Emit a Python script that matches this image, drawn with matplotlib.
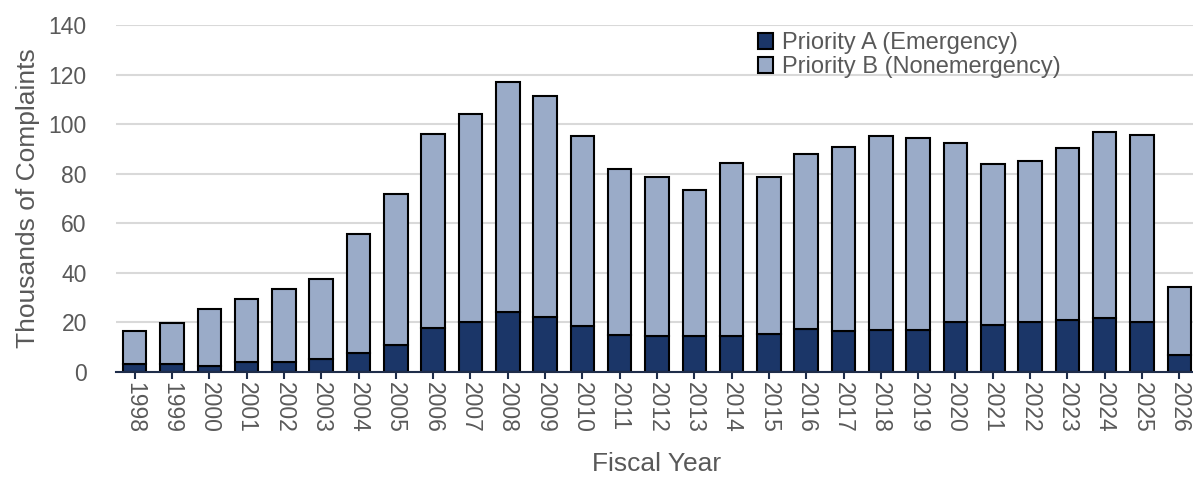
import matplotlib
matplotlib.use("Agg")
import matplotlib.pyplot as plt
import numpy as np

plt.rcParams['font.family'] = ['Liberation Sans', 'DejaVu Sans']

years = [str(y) for y in range(1998, 2027)]
# thousands of complaints
total = [16.4, 19.7, 25.4, 29.4, 33.4, 37.7, 55.6, 71.9, 96.0, 104.1,
         116.9, 111.2, 95.1, 82.1, 78.8, 73.3, 84.4, 78.8, 88.1, 90.9,
         95.3, 94.5, 92.5, 83.8, 85.1, 90.5, 96.9, 95.7, 34.3]
prio_a = [3.4, 3.1, 2.4, 4.2, 3.9, 5.3, 7.8, 10.8, 17.8, 20.1,
          24.2, 22.1, 18.6, 14.9, 14.5, 14.4, 14.5, 15.5, 17.5, 16.4,
          16.8, 17.0, 20.2, 19.1, 20.2, 20.8, 21.6, 20.0, 7.0]
prio_b = [t - a for t, a in zip(total, prio_a)]

dark = '#1b3668'
light = '#9aabc8'
grey = '#595959'

fig = plt.figure(figsize=(11.93, 4.79), dpi=100)
ax = fig.add_axes([116/1193, 1 - 372/479, 1082/1193, 347/479])

x = np.arange(len(years))
ax.bar(x, prio_a, width=0.63, color=dark, edgecolor='black', linewidth=1.5,
       label='Priority A (Emergency)', zorder=3)
ax.bar(x, prio_b, width=0.63, bottom=prio_a, color=light, edgecolor='black',
       linewidth=1.5, label='Priority B (Nonemergency)', zorder=3)

ax.set_xlim(-0.5, len(years) - 0.5)
ax.set_ylim(0, 140)
ax.set_yticks(range(0, 141, 20))
ax.set_xticks(x)
ax.set_xticklabels(years, rotation=-90)
ax.grid(axis='y', color='#d9d9d9', linewidth=1.5, zorder=0)
for s in ['top', 'right', 'left']:
    ax.spines[s].set_visible(False)
ax.spines['bottom'].set_color('#1f2d4a')
ax.spines['bottom'].set_linewidth(1.5)
ax.spines['bottom'].set_zorder(4)
ax.tick_params(axis='x', colors='#1f2d4a', labelcolor=grey, labelsize=16.5,
               length=5, width=1.5, pad=2)
ax.tick_params(axis='y', length=0, labelcolor=grey, labelsize=16.5, pad=21)

ax.set_ylabel('Thousands of Complaints', fontsize=19, color=grey, labelpad=6)
ax.set_xlabel('Fiscal Year', fontsize=19, color=grey, labelpad=14)

ax.legend(loc='upper left', bbox_to_anchor=(758/1193, 1 - 32/479),
          bbox_transform=fig.transFigure, frameon=False, fontsize=17,
          labelcolor=grey, handlelength=0.65, handleheight=0.65,
          handletextpad=0.35, labelspacing=0.1, borderaxespad=0, borderpad=0)

fig.savefig('out.png', dpi=100)
